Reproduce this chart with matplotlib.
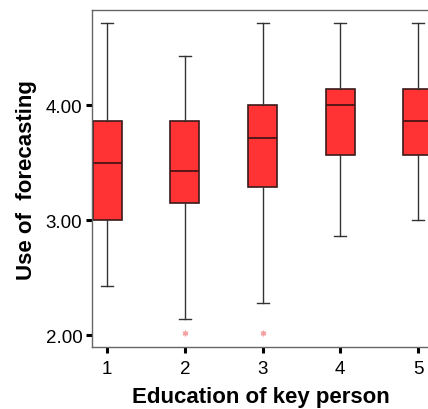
import matplotlib
matplotlib.use("Agg")
import matplotlib.pyplot as plt

plt.rcParams['font.family'] = ['Liberation Sans', 'DejaVu Sans']

groups = [1, 2, 3, 4, 5]
whislo = [2.43, 2.14, 2.28, 2.86, 3.00]
q1 = [3.00, 3.15, 3.29, 3.57, 3.57]
med = [3.50, 3.43, 3.71, 4.00, 3.86]
q3 = [3.86, 3.86, 4.00, 4.14, 4.14]
whishi = [4.71, 4.43, 4.71, 4.71, 4.71]
fliers = [[], [2.02], [2.02], [], []]

stats = []
for i in range(len(groups)):
    stats.append({"label": str(groups[i]), "whislo": whislo[i], "q1": q1[i], "med": med[i],
                  "q3": q3[i], "whishi": whishi[i], "fliers": fliers[i]})

fig = plt.figure(figsize=(4.28, 4.10), dpi=100)
ax = fig.add_axes([0.215, 0.151, 0.787, 0.822])

ax.bxp(stats, positions=groups, widths=0.375, patch_artist=True, showcaps=True,
       boxprops=dict(facecolor="#ff3333", edgecolor="#3a1a1a", linewidth=1.2),
       medianprops=dict(color="#4a1515", linewidth=1.3),
       whiskerprops=dict(color="#333333", linewidth=1.0),
       capprops=dict(color="#333333", linewidth=1.0),
       capwidths=0.155,
       flierprops=dict(marker=(6, 2, 0), markersize=4, markeredgecolor="#f4a0a0",
                       markerfacecolor="#f4a0a0", linestyle="none"))

ax.set_xlim(0.806, 5.14)
ax.set_ylim(1.896, 4.826)
ax.set_yticks([2.0, 3.0, 4.0])
ax.set_yticklabels(["2.00", "3.00", "4.00"])
ax.set_xticks(groups)
ax.set_xticklabels([str(g) for g in groups])

for s in ["left", "top", "bottom"]:
    ax.spines[s].set_color("#666666")
    ax.spines[s].set_linewidth(1.0)
ax.spines["right"].set_visible(False)

ax.tick_params(axis="both", direction="out", length=4.5, width=2.2, color="black",
               labelsize=13.5, pad=2.5)
ax.tick_params(axis="x", pad=5)

ax.set_xlabel("Education of key person", fontsize=16, fontweight="bold", labelpad=6)
ax.set_ylabel("Use of  forecasting", fontsize=16, fontweight="bold", labelpad=6)

fig.savefig("out.png", dpi=100)
